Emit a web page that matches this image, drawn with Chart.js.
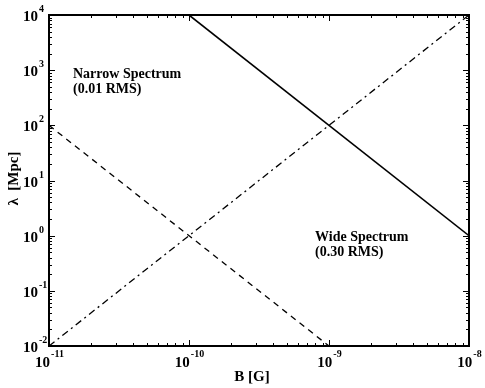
<!DOCTYPE html>
<html>
<head>
<meta charset="utf-8">
<script src="https://cdn.jsdelivr.net/npm/chart.js@4.4.0/dist/chart.umd.min.js"></script>
<style>
  html, body { margin: 0; padding: 0; background: #fff; }
  #wrap { width: 485px; height: 388px; }
</style>
</head>
<body>
<div id="wrap"><canvas id="grafica" width="485" height="388"></canvas></div>
<script>
// datos (log-log)
const xWide = [1e-10, 1e-8];
const yWide = [1e4, 1e0];
const xNarrow = [1e-11, 1e-9];
const yNarrow = [1e2, 1e-2];
const xDashDot = [1e-11, 1e-8];
const yDashDot = [1e-2, 1e4];

const xExps = [-11, -10, -9, -8];
const yExps = [-2, -1, 0, 1, 2, 3, 4];

const fuente = '"Liberation Serif", "DejaVu Serif", serif';

function puntos(xs, ys) {
  return xs.map(function (x, i) { return { x: x, y: ys[i] }; });
}

// marcas menores/mayores hacia dentro en los cuatro lados + etiquetas 10^n
const ejesPlugin = {
  id: 'ejesPlugin',
  afterDraw: function (chart) {
    const ctx = chart.ctx;
    const a = chart.chartArea;
    const sx = chart.scales.x, sy = chart.scales.y;
    ctx.save();
    ctx.strokeStyle = '#000';
    ctx.lineWidth = 1;
    // ticks en x
    for (let e = xExps[0]; e <= xExps[xExps.length - 1]; e++) {
      for (let m = 1; m <= 9; m++) {
        const v = m * Math.pow(10, e);
        if (v > Math.pow(10, xExps[xExps.length - 1]) * 1.0001) break;
        const px = Math.round(sx.getPixelForValue(v)) + 0.5;
        const len = m === 1 ? 6 : 3;
        ctx.beginPath();
        ctx.moveTo(px, a.bottom); ctx.lineTo(px, a.bottom - len);
        ctx.moveTo(px, a.top); ctx.lineTo(px, a.top + len);
        ctx.stroke();
      }
    }
    // ticks en y
    for (let e = yExps[0]; e <= yExps[yExps.length - 1]; e++) {
      for (let m = 1; m <= 9; m++) {
        const v = m * Math.pow(10, e);
        if (v > Math.pow(10, yExps[yExps.length - 1]) * 1.0001) break;
        const py = Math.round(sy.getPixelForValue(v)) + 0.5;
        const len = m === 1 ? 6 : 3;
        ctx.beginPath();
        ctx.moveTo(a.left, py); ctx.lineTo(a.left + len, py);
        ctx.moveTo(a.right, py); ctx.lineTo(a.right - len, py);
        ctx.stroke();
      }
    }
    // marco
    ctx.lineWidth = 2;
    ctx.strokeRect(a.left, a.top, a.right - a.left, a.bottom - a.top);

    // etiquetas
    ctx.fillStyle = '#000';
    ctx.textBaseline = 'alphabetic';
    xExps.forEach(function (e) {
      const px = sx.getPixelForValue(Math.pow(10, e));
      ctx.font = 'bold 15px ' + fuente;
      const w10 = ctx.measureText('10').width;
      ctx.font = 'bold 10px ' + fuente;
      const we = ctx.measureText(String(e)).width;
      const x0 = px - (w10 + we) / 2;
      ctx.font = 'bold 15px ' + fuente;
      ctx.textAlign = 'left';
      ctx.fillText('10', x0, a.bottom + 21);
      ctx.font = 'bold 10px ' + fuente;
      ctx.fillText(String(e), x0 + w10 + 1, a.bottom + 11);
    });
    yExps.forEach(function (e) {
      const py = sy.getPixelForValue(Math.pow(10, e));
      ctx.textAlign = 'left';
      ctx.font = 'bold 15px ' + fuente;
      const w10 = ctx.measureText('10').width;
      ctx.fillText('10', 23, py + 6);
      ctx.font = 'bold 10px ' + fuente;
      ctx.fillText(String(e), 23 + w10 + 1, py - 3);
    });

    // titulos de ejes
    ctx.font = 'bold 15px ' + fuente;
    ctx.textAlign = 'center';
    ctx.fillText('B [G]', 252, 381);
    ctx.save();
    ctx.translate(18, (a.top + a.bottom) / 2 - 2);
    ctx.rotate(-Math.PI / 2);
    ctx.fillText('\u03bb  [Mpc]', 0, 0);
    ctx.restore();

    // anotaciones
    ctx.font = 'bold 14px ' + fuente;
    ctx.textAlign = 'left';
    ctx.fillText('Narrow Spectrum', 73, 78);
    ctx.fillText('(0.01 RMS)', 73, 93);
    ctx.fillText('Wide Spectrum', 315, 241);
    ctx.fillText('(0.30 RMS)', 315, 256);
    ctx.restore();
  }
};

const ctx = document.getElementById('grafica').getContext('2d');
const grafica = new Chart(ctx, {
  type: 'line',
  data: {
    datasets: [
      { label: 'Wide', data: puntos(xWide, yWide), borderColor: '#000', borderWidth: 1.6, pointRadius: 0, fill: false },
      { label: 'Narrow', data: puntos(xNarrow, yNarrow), borderColor: '#000', borderWidth: 1.3, borderDash: [6, 5], pointRadius: 0, fill: false },
      { label: 'DashDot', data: puntos(xDashDot, yDashDot), borderColor: '#000', borderWidth: 1.3, borderDash: [7, 4, 2, 4], pointRadius: 0, fill: false }
    ]
  },
  options: {
    responsive: false,
    animation: false,
    layout: { padding: { left: 49, top: 15, right: 16, bottom: 42 } },
    plugins: { legend: { display: false }, tooltip: { enabled: false } },
    scales: {
      x: { type: 'logarithmic', min: 1e-11, max: 1e-8, display: false },
      y: { type: 'logarithmic', min: 1e-2, max: 1e4, display: false }
    }
  },
  plugins: [ejesPlugin]
});
</script>
</body>
</html>
